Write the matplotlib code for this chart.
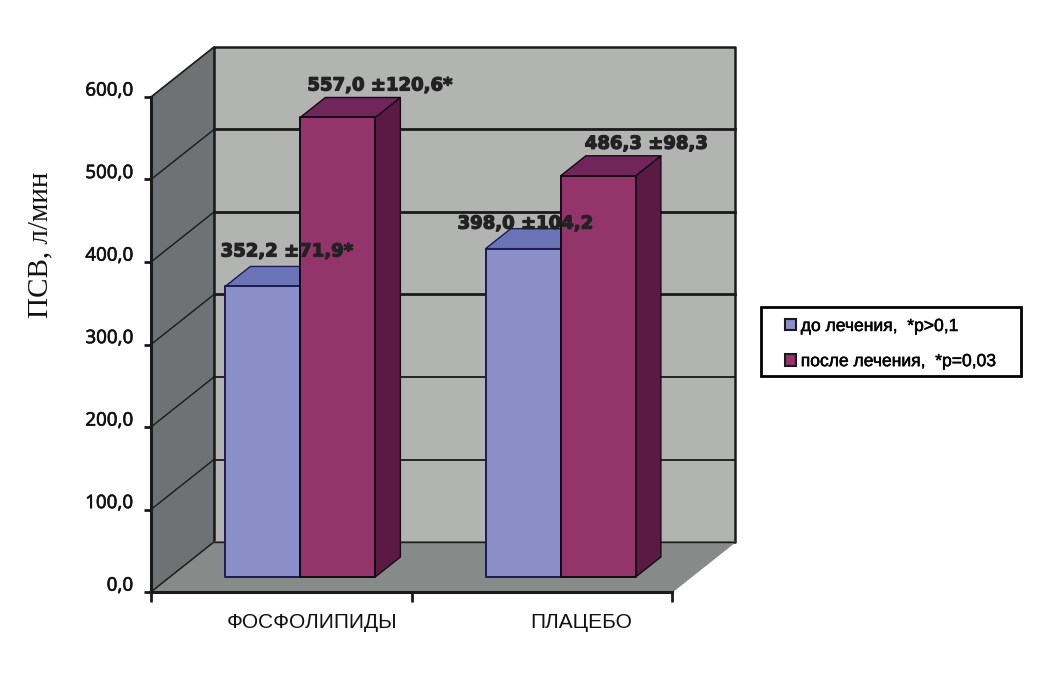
import matplotlib
matplotlib.use('Agg')
import matplotlib.pyplot as plt
import matplotlib.patheffects as pe
from matplotlib.patches import Polygon, Patch, Rectangle
from matplotlib.transforms import ScaledTranslation

categories = ['ФОСФОЛИПИДЫ', 'ПЛАЦЕБО']
before = [352.2, 398.0]
after = [557.0, 486.3]
before_labels = ['352,2 ±71,9*', '398,0 ±104,2']
after_labels = ['557,0 ±120,6*', '486,3 ±98,3']
yticks = [0, 100, 200, 300, 400, 500, 600]
ytick_labels = ['0,0', '100,0', '200,0', '300,0', '400,0', '500,0', '600,0']
series_names = ['до лечения,  *p>0,1', 'после лечения,  *p=0,03']

W, H = 1048, 673
# depth of the fake 3d box, in data units
OX = 63 / 260.5
OY = 50 / 0.825
bar_w = 0.288
d0, d1 = 0.3, 0.7

blue = '#8B8FC8'
blue_top = '#6A74B6'
blue_side = '#4F568F'
navy = '#1B1B55'
purple = '#93356A'
purple_top = '#70265A'
purple_side = '#5A1A44'
wall = '#B2B4B2'
side_wall = '#6E7274'
floor = '#868A88'
dark = '#1A1A1A'


def pt(x, v, d):
    return (x + d * OX, v + d * OY)


fig = plt.figure(figsize=(W / 100, H / 100), dpi=100)
ax = fig.add_axes([151 / W, 1 - 592 / H, 521 / W, 495 / H])
ax.set_xlim(0, 2)
ax.set_ylim(0, 600)
ax.patch.set_visible(False)


def poly(pts, fc, ec=dark, lw=1.0, z=1):
    ax.add_patch(Polygon(pts, closed=True, facecolor=fc, edgecolor=ec, linewidth=lw,
                         zorder=z, clip_on=False, joinstyle='round'))


# walls and floor
poly([pt(0, 0, 1), pt(2, 0, 1), pt(2, 600, 1), pt(0, 600, 1)], wall, lw=1.8)
poly([pt(0, 0, 0), pt(0, 0, 1), pt(0, 600, 1), pt(0, 600, 0)], side_wall, lw=1.2)
poly([pt(0, 0, 0), pt(2, 0, 0), pt(2, 0, 1), pt(0, 0, 1)], floor, ec=floor, lw=1.0)
ax.plot([pt(0, 0, 1)[0], pt(2, 0, 1)[0]], [pt(0, 0, 1)[1]] * 2, color=dark, lw=1.0, clip_on=False, zorder=1.5)

for v in yticks[:-1]:
    lw = 2.0 if v >= 300 else 1.3
    if v > 0:
        ax.plot([pt(0, v, 1)[0], pt(2, v, 1)[0]], [pt(0, v, 1)[1]] * 2, color=dark, lw=lw,
                clip_on=False, zorder=2)
    ax.plot([pt(0, v, 0)[0], pt(0, v, 1)[0]], [pt(0, v, 0)[1], pt(0, v, 1)[1]], color=dark,
            lw=1.0, clip_on=False, zorder=2)


def bar3d(x, val, fc, top, side, ec, z):
    x0, x1 = x, x + bar_w
    poly([pt(x1, 0, d0), pt(x1, 0, d1), pt(x1, val, d1), pt(x1, val, d0)], side, ec=ec, z=z)
    poly([pt(x0, val, d0), pt(x1, val, d0), pt(x1, val, d1), pt(x0, val, d1)], top, ec=ec, z=z)
    poly([pt(x0, 0, d0), pt(x1, 0, d0), pt(x1, val, d0), pt(x0, val, d0)], fc, ec=ec, lw=1.4, z=z + 0.1)


for i in range(len(categories)):
    c = i + 0.5
    bar3d(c - bar_w, before[i], blue, blue_top, blue_side, navy, 3)
    bar3d(c, after[i], purple, purple_top, purple_side, '#140A14', 4)

# value labels, offset from the middle of each bar front in pixels
before_off = [(24, 35), (2, 25)]
after_off = [(42, 32), (48, 32)]
heavy = [pe.withStroke(linewidth=0.9, foreground='#222222')]
for i in range(len(categories)):
    c = i + 0.5
    for x, val, lab, off in [(c - bar_w / 2, before[i], before_labels[i], before_off[i]),
                             (c + bar_w / 2, after[i], after_labels[i], after_off[i])]:
        ax.annotate(lab, xy=pt(x, val, d0), xytext=off, textcoords='offset pixels',
                    ha='center', va='center', fontsize=13, fontweight='bold',
                    family='DejaVu Sans', color='#222222', zorder=6, annotation_clip=False,
                    path_effects=heavy)

for s in ['top', 'right']:
    ax.spines[s].set_visible(False)
for s in ['left', 'bottom']:
    ax.spines[s].set_linewidth(2.2)
    ax.spines[s].set_color(dark)
    ax.spines[s].set_zorder(5)

ax.set_yticks(yticks)
ax.set_yticklabels(ytick_labels, family='Noto Sans', fontsize=13.5, color='#111111')
ax.tick_params(axis='y', length=5, width=2, pad=8, color=dark)
up = ScaledTranslation(0, 6 / 72, fig.dpi_scale_trans)
thin = [pe.withStroke(linewidth=0.4, foreground='#111111')]
for t in ax.get_yticklabels():
    t.set_transform(t.get_transform() + up)
    t.set_path_effects(thin)

ax.set_xticks([0, 1, 2])
ax.set_xticklabels([])
ax.tick_params(axis='x', which='major', length=7, width=2, color=dark)
ax.set_xticks([0.62, 1.65], minor=True)
ax.set_xticklabels(categories, minor=True, family='Liberation Sans', fontsize=15, color='#111111')
ax.tick_params(axis='x', which='minor', length=0, pad=15)

fig.text(40 / W, 1 - 245 / H, 'ПСВ, л/мин', rotation=90, ha='center', va='center',
         family='Liberation Serif', fontsize=21, color='#111111')

# legend frame is wider than the entries need, so it is a separate box
fig.add_artist(Rectangle((761 / W, 1 - 376 / H), 260 / W, 69 / H, transform=fig.transFigure,
                         facecolor='white', edgecolor='black', linewidth=2))
handles = [Patch(facecolor=blue, edgecolor=dark, linewidth=1.5),
           Patch(facecolor=purple, edgecolor=dark, linewidth=1.5)]
leg = fig.legend(handles, series_names, loc='upper left', bbox_to_anchor=(785 / W, 1 - 319 / H),
                 bbox_transform=fig.transFigure, prop={'family': 'Liberation Sans', 'size': 12.6},
                 frameon=False, handlelength=0.6, handleheight=0.6, handletextpad=0.3,
                 labelspacing=1.15, borderpad=0, borderaxespad=0)
for t in leg.get_texts():
    t.set_path_effects(thin)

fig.savefig('out.png', dpi=100)
